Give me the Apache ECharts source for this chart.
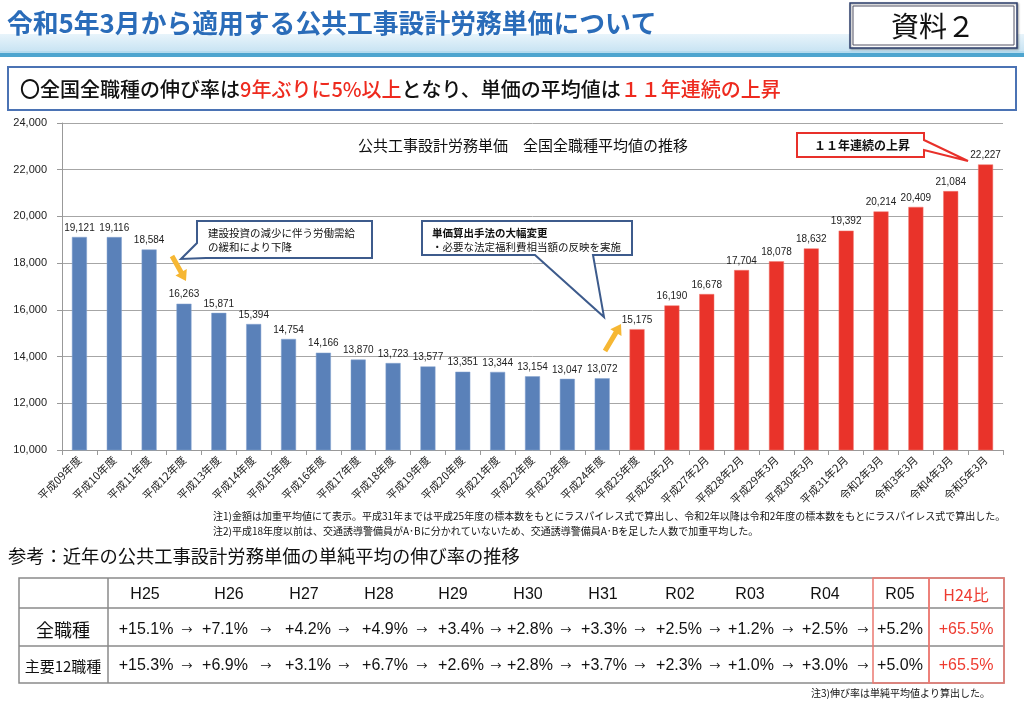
<!DOCTYPE html>
<html><head><meta charset="utf-8">
<script src="https://cdn.jsdelivr.net/npm/echarts/dist/echarts.min.js"></script>
<style>html,body{margin:0;padding:0;background:#fff;}#c{width:1024px;height:705px;}</style>
</head><body><div id="c"></div>
<script>
// ---- data ----
const categories = ['平成09年度','平成10年度','平成11年度','平成12年度','平成13年度','平成14年度','平成15年度','平成16年度','平成17年度','平成18年度','平成19年度','平成20年度','平成21年度','平成22年度','平成23年度','平成24年度','平成25年度','平成26年2月','平成27年2月','平成28年2月','平成29年3月','平成30年3月','平成31年2月','令和2年3月','令和3年3月','令和4年3月','令和5年3月'];
const blueValues = [19121,19116,18584,16263,15871,15394,14754,14166,13870,13723,13577,13351,13344,13154,13047,13072];
const redValues = [15175,16190,16678,17704,18078,18632,19392,20214,20409,21084,22227];
const yMin = 10000, yMax = 24000, yStep = 2000;
const tableHeaders = ['H25','H26','H27','H28','H29','H30','H31','R02','R03','R04','R05','H24比'];
const allJobRates = ['+15.1%','+7.1%','+4.2%','+4.9%','+3.4%','+2.8%','+3.3%','+2.5%','+1.2%','+2.5%','+5.2%','+65.5%'];
const main12Rates = ['+15.3%','+6.9%','+3.1%','+6.7%','+2.6%','+2.8%','+3.7%','+2.3%','+1.0%','+3.0%','+5.0%','+65.5%'];
const rowLabels = ['全職種','主要12職種'];

// ---- layout ----
const JP = '"Noto Sans CJK JP"';
const headerX = [145,229,304,379,453,528,603,680,750,825,900,966];
const valueX  = [146,225,308,385,461,530,604,679,751,825,900,966];
const arrowX  = [187,266,344,422,496,566,640,715,788,863];

const blueSeries = blueValues.concat(redValues.map(() => '-'));
const redSeries = blueValues.map(() => '-').concat(redValues);

function arrowPts(x1,y1,x2,y2,w,hl,hw){
  const dx=x2-x1, dy=y2-y1, L=Math.hypot(dx,dy), ux=dx/L, uy=dy/L, nx=-uy, ny=ux;
  const bx=x2-ux*hl, by=y2-uy*hl;
  return [[x1+nx*w/2,y1+ny*w/2],[bx+nx*w/2,by+ny*w/2],[bx+nx*hw/2,by+ny*hw/2],[x2,y2],
          [bx-nx*hw/2,by-ny*hw/2],[bx-nx*w/2,by-ny*w/2],[x1-nx*w/2,y1-ny*w/2]];
}

const g = [];
// header band
g.push({type:'rect', shape:{x:0,y:34,width:1024,height:17}, style:{fill:new echarts.graphic.LinearGradient(0,0,0,1,[{offset:0,color:'#e8f4fb'},{offset:1,color:'#c9e4f3'}])}, z:1});
g.push({type:'rect', shape:{x:0,y:51,width:1024,height:2}, style:{fill:'#b5dbee'}, z:1});
g.push({type:'rect', shape:{x:0,y:53,width:1024,height:4}, style:{fill:'#4ea5cf'}, z:1});
g.push({type:'text', style:{text:'令和5年3月から適用する公共工事設計労務単価について', x:7, y:23, textVerticalAlign:'middle', font:'bold 25.8px '+JP, fill:'#2a6cb9'}, z:5});
// 資料２
g.push({type:'rect', shape:{x:850,y:3,width:167,height:45}, style:{fill:'#fff', stroke:'#2e3f6c', lineWidth:1.5, shadowBlur:2, shadowColor:'rgba(0,0,0,0.3)', shadowOffsetX:1, shadowOffsetY:1}, z:5});
g.push({type:'rect', shape:{x:853,y:6,width:161,height:39}, style:{fill:'none', stroke:'#556', lineWidth:1}, z:5});
g.push({type:'text', style:{text:'資料２', x:933, y:26, textAlign:'center', textVerticalAlign:'middle', font:'28px '+JP, fill:'#111'}, z:6});
// headline box
g.push({type:'rect', shape:{x:8,y:67,width:1008,height:43}, style:{fill:'#fff', stroke:'#4b73b4', lineWidth:2}, z:5});
g.push({type:'text', style:{text:'{b|〇全国全職種の伸び率は}{r|9年ぶりに5%以上}{b|となり、単価の平均値は}{r|１１年連続の上昇}', x:20, y:89, textVerticalAlign:'middle',
  rich:{b:{font:'500 20px '+JP, fill:'#111'}, r:{font:'500 20px '+JP, fill:'#ee2a1e'}}}, z:6});
// chart title
g.push({type:'text', style:{text:'公共工事設計労務単価　全国全職種平均値の推移', x:523, y:145, textAlign:'center', textVerticalAlign:'middle', font:'15px '+JP, fill:'#111'}, z:6});
// callout 1
g.push({type:'polygon', shape:{points:[[197,221],[372,221],[372,258],[206,258],[181,259],[197,243]]}, style:{fill:'#fff', stroke:'#3d5b8c', lineWidth:2}, z:10});
g.push({type:'text', style:{text:'建設投資の減少に伴う労働需給\nの緩和により下降', x:208, y:240, textVerticalAlign:'middle', font:'10.5px '+JP, lineHeight:14, fill:'#111'}, z:11});
// callout 2
g.push({type:'polygon', shape:{points:[[422,221],[632,221],[632,255],[593,255],[604,317],[535,255],[422,255]]}, style:{fill:'#fff', stroke:'#3d5b8c', lineWidth:2}, z:10});
g.push({type:'text', style:{text:'{h|単価算出手法の大幅変更}\n{n|・必要な法定福利費相当額の反映を実施}', x:432, y:240, textVerticalAlign:'middle',
  rich:{h:{font:'bold 10.5px '+JP, fill:'#111', lineHeight:14}, n:{font:'10.5px '+JP, fill:'#111', lineHeight:14}}}, z:11});
// callout 3
g.push({type:'polygon', shape:{points:[[797,133],[924,133],[924,140],[968,161],[924,150],[924,157],[797,157]]}, style:{fill:'#fff', stroke:'#e8302a', lineWidth:2}, z:10});
g.push({type:'text', style:{text:'１１年連続の上昇', x:862, y:145, textAlign:'center', textVerticalAlign:'middle', font:'bold 12px '+JP, fill:'#111'}, z:11});
// yellow arrows
g.push({type:'polygon', shape:{points:arrowPts(172,256,186,281,5,10,13)}, style:{fill:'#f6b733'}, z:10});
g.push({type:'polygon', shape:{points:arrowPts(605,351,621,324,5,10,13)}, style:{fill:'#f6b733'}, z:10});
// notes
g.push({type:'text', style:{text:'注1)金額は加重平均値にて表示。平成31年までは平成25年度の標本数をもとにラスパイレス式で算出し、令和2年以降は令和2年度の標本数をもとにラスパイレス式で算出した。', x:213, y:516, textVerticalAlign:'middle', font:'10px '+JP, fill:'#111'}, z:6});
g.push({type:'text', style:{text:'注2)平成18年度以前は、交通誘導警備員がA･Bに分かれていないため、交通誘導警備員A･Bを足した人数で加重平均した。', x:213, y:531, textVerticalAlign:'middle', font:'10px '+JP, fill:'#111'}, z:6});
g.push({type:'text', style:{text:'参考：近年の公共工事設計労務単価の単純平均の伸び率の推移', x:8, y:556, textVerticalAlign:'middle', font:'18.3px '+JP, fill:'#111'}, z:6});
g.push({type:'text', style:{text:'注3)伸び率は単純平均値より算出した。', x:990, y:693, textAlign:'right', textVerticalAlign:'middle', font:'10px '+JP, fill:'#111'}, z:6});
// table
const T = {l:19, r:1004, t:578, r1:608, r2:646, b:683, c1:108, cR05:873, cH24:929};
const gray = '#8a8a8a', pink = '#ec7a72';
g.push({type:'rect', shape:{x:T.l,y:T.t,width:T.r-T.l,height:T.b-T.t}, style:{fill:'none', stroke:gray, lineWidth:1.5}, z:5});
g.push({type:'line', shape:{x1:T.l,y1:T.r1,x2:T.r,y2:T.r1}, style:{stroke:gray, lineWidth:1.5}, z:5});
g.push({type:'line', shape:{x1:T.l,y1:T.r2,x2:T.r,y2:T.r2}, style:{stroke:gray, lineWidth:1.5}, z:5});
g.push({type:'line', shape:{x1:T.c1,y1:T.t,x2:T.c1,y2:T.b}, style:{stroke:gray, lineWidth:1.5}, z:5});
g.push({type:'rect', shape:{x:T.cR05,y:T.t,width:T.cH24-T.cR05,height:T.b-T.t}, style:{fill:'none', stroke:pink, lineWidth:1.5}, z:6});
g.push({type:'rect', shape:{x:T.cH24,y:T.t,width:T.r-T.cH24,height:T.b-T.t}, style:{fill:'none', stroke:pink, lineWidth:1.5}, z:6});
const rowY = [630, 666];
tableHeaders.forEach((h,i)=>{
  g.push({type:'text', style:{text:h, x:headerX[i], y:595, textAlign:'center', textVerticalAlign:'middle', font:(i===11?'16px '+JP:'16px "Liberation Sans"'), fill:(i===11?'#ee3b30':'#111')}, z:7});
});
[allJobRates, main12Rates].forEach((row,ri)=>{
  row.forEach((v,i)=>{
    g.push({type:'text', style:{text:v, x:valueX[i], y:rowY[ri], textAlign:'center', textVerticalAlign:'middle', font:'16px "Liberation Sans"', fill:(i===11?'#ee3b30':'#111')}, z:7});
  });
  arrowX.forEach(x=>{
    g.push({type:'text', style:{text:'→', x:x, y:rowY[ri], textAlign:'center', textVerticalAlign:'middle', font:'11px '+JP, fill:'#111'}, z:7});
  });
});
g.push({type:'text', style:{text:rowLabels[0], x:63, y:rowY[0], textAlign:'center', textVerticalAlign:'middle', font:'18px '+JP, fill:'#111'}, z:7});
g.push({type:'text', style:{text:rowLabels[1], x:63, y:rowY[1], textAlign:'center', textVerticalAlign:'middle', font:'15px '+JP, fill:'#111'}, z:7});

const labelCfg = {show:true, position:'top', distance:4, fontSize:10, fontFamily:'"Liberation Sans"', color:'#222',
  formatter: p => Number(p.value).toLocaleString('en-US')};

const chart = echarts.init(document.getElementById('c'), null, {renderer:'canvas'});
chart.setOption({
  animation:false,
  backgroundColor:'#fff',
  grid:{left:62, right:21, top:123, bottom:255, containLabel:false},
  xAxis:{type:'category', data:categories,
    axisLine:{lineStyle:{color:'#999'}}, axisTick:{show:true, length:5, lineStyle:{color:'#999'}},
    axisLabel:{rotate:45, fontSize:11, fontFamily:JP, color:'#222', margin:8, interval:0}},
  yAxis:{type:'value', min:yMin, max:yMax, interval:yStep,
    axisLine:{show:true, lineStyle:{color:'#999'}}, axisTick:{show:true, length:5, lineStyle:{color:'#999'}},
    splitLine:{lineStyle:{color:'#a6a6a6'}},
    axisLabel:{fontSize:11, fontFamily:'"Liberation Sans"', color:'#222', margin:15,
      formatter: v => v.toLocaleString('en-US')}},
  series:[
    {type:'bar', data:blueSeries, barWidth:15, barGap:'-100%', itemStyle:{color:'#5a81b9', borderColor:'#86a5d0', borderWidth:0.5}, label:labelCfg},
    {type:'bar', data:redSeries, barWidth:15, barGap:'-100%', itemStyle:{color:'#e9332a', borderColor:'#f07a72', borderWidth:0.5}, label:labelCfg}
  ],
  graphic:{elements:g}
});
</script>
</body></html>
